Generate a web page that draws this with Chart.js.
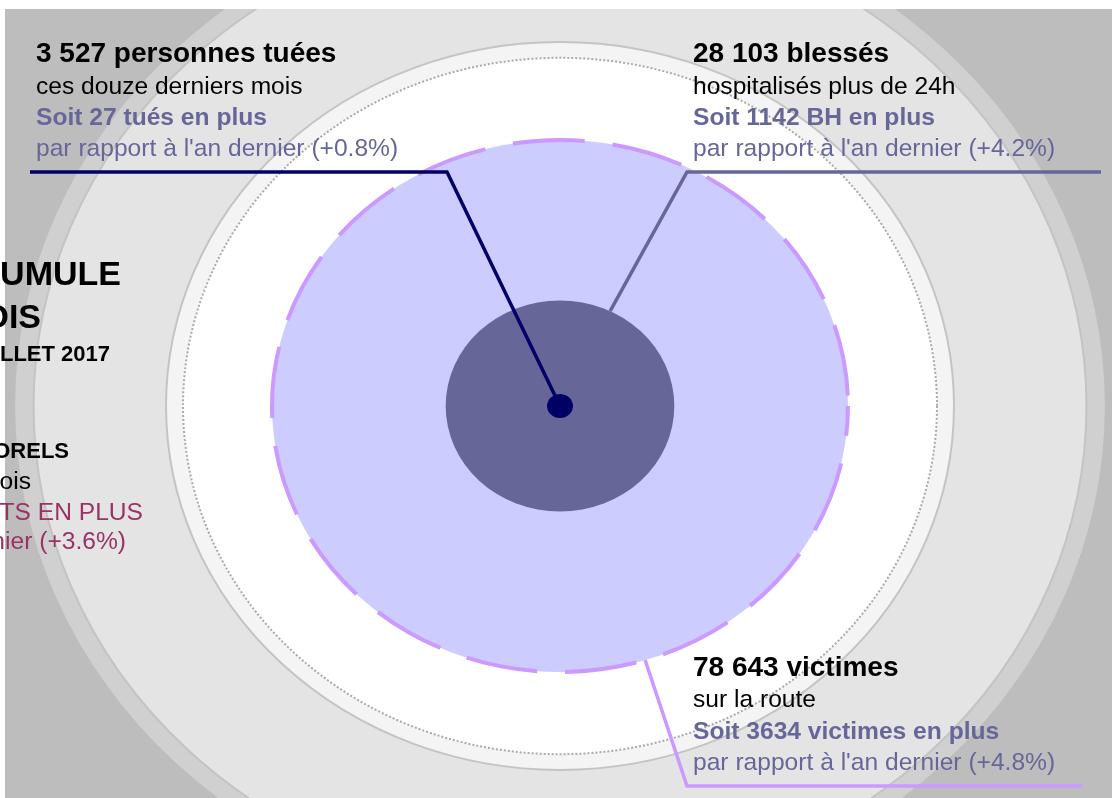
<!DOCTYPE html>
<html lang="fr">
<head>
<meta charset="utf-8">
<title>Bilan cumulé sur 12 mois</title>
<script src="https://cdn.jsdelivr.net/npm/chart.js@4.4.1/dist/chart.umd.min.js"></script>
<style>
  html, body { margin: 0; padding: 0; background: #ffffff; }
  #wrap { position: relative; width: 1112px; height: 798px; }
</style>
</head>
<body>
<div id="wrap"><canvas id="bilan"></canvas></div>
<script>
// Séries (12 derniers mois, juillet 2017)
const categories = ['victimes', 'blessés hospitalisés', 'tuées'];
const totals = [78643, 28103, 3527];
const hausses = [3634, 1142, 27];
const haussesPct = [4.8, 4.2, 0.8];
// rayon des disques en unités du graphe (disque des victimes = 100)
const rayons = [100, 39.7, 4.5];
// anneaux de fond, du plus grand au plus petit
const anneaux = [189.2, 182.8, 136.8, 130.9];
const accidentsPct = 3.6;

const fontFamily = "'Liberation Sans', Arial, sans-serif";
const milliers = n => String(n).replace(/\B(?=(\d{3})+(?!\d))/g, ' ');

const ringFill = ['#d0d0d0', '#e4e4e4', '#f4f4f4', '#ffffff'];
const ringStroke = [null, '#c4c4c4', '#c4c4c4', '#aaaaaa'];
const discFill = ['#ccccff', '#666699', '#000066'];
const leaderColor = ['#cc99ff', '#666699', '#000066'];

function radii(chart, r) {
  const { x, y } = chart.scales;
  return [x.getPixelForValue(r) - x.getPixelForValue(0), y.getPixelForValue(0) - y.getPixelForValue(r)];
}

// point du bord d'un disque, angle en degrés (sens écran)
function edgePoint(chart, r, deg) {
  const { x, y } = chart.scales;
  const [rx, ry] = radii(chart, r);
  const t = deg * Math.PI / 180;
  return [x.getPixelForValue(0) + rx * Math.cos(t), y.getPixelForValue(0) + ry * Math.sin(t)];
}

const ellipsePlugin = {
  id: 'ellipses',
  beforeDatasetsDraw(chart) {
    const { ctx, chartArea: a, scales: { x, y } } = chart;
    const cx = x.getPixelForValue(0), cy = y.getPixelForValue(0);
    ctx.save();
    ctx.fillStyle = '#bdbdbd';
    ctx.fillRect(a.left, a.top, a.right - a.left, a.bottom - a.top);
    ctx.beginPath();
    ctx.rect(a.left, a.top, a.right - a.left, a.bottom - a.top);
    ctx.clip();

    anneaux.forEach((r, i) => {
      const [rx, ry] = radii(chart, r);
      ctx.beginPath();
      ctx.ellipse(cx, cy, rx, ry, 0, 0, Math.PI * 2);
      ctx.fillStyle = ringFill[i];
      ctx.fill();
      if (ringStroke[i]) {
        ctx.lineWidth = 2;
        ctx.strokeStyle = ringStroke[i];
        ctx.setLineDash(i === 3 ? [2, 2] : []);
        ctx.stroke();
      }
    });
    ctx.setLineDash([]);

    rayons.forEach((r, i) => {
      const [rx, ry] = radii(chart, r);
      ctx.beginPath();
      ctx.ellipse(cx, cy, rx, ry, 0, 0, Math.PI * 2);
      ctx.fillStyle = discFill[i];
      ctx.fill();
      if (i === 0) {
        ctx.lineWidth = 4;
        ctx.strokeStyle = '#cc99ff';
        ctx.setLineDash([72, 28]);
        ctx.lineDashOffset = 42;
        ctx.stroke();
        ctx.setLineDash([]);
        ctx.lineDashOffset = 0;
      }
    });
    ctx.restore();
  },
  afterDatasetsDraw(chart) {
    const { ctx, scales: { x, y } } = chart;
    const cx = x.getPixelForValue(0), cy = y.getPixelForValue(0);
    ctx.save();
    ctx.lineWidth = 3.5;

    // tuées : vers le centre
    ctx.strokeStyle = leaderColor[2];
    ctx.beginPath();
    ctx.moveTo(30, 172);
    ctx.lineTo(447, 172);
    ctx.lineTo(cx, cy);
    ctx.stroke();

    // blessés : vers le bord du disque sombre
    const pb = edgePoint(chart, rayons[1], -64);
    ctx.strokeStyle = leaderColor[1];
    ctx.beginPath();
    ctx.moveTo(1101, 172);
    ctx.lineTo(687, 172);
    ctx.lineTo(pb[0], pb[1]);
    ctx.stroke();

    // victimes : depuis le bord du grand disque
    const pv = edgePoint(chart, rayons[0], 72.8);
    ctx.strokeStyle = leaderColor[0];
    ctx.beginPath();
    ctx.moveTo(pv[0], pv[1]);
    ctx.lineTo(687, 786);
    ctx.lineTo(1082, 786);
    ctx.stroke();

    function bloc(px, py, lines) {
      lines.forEach(([txt, font, color, dy]) => {
        ctx.font = font;
        ctx.fillStyle = color;
        ctx.fillText(txt, px, py + dy);
      });
    }
    const titre = 'bold 28px ' + fontFamily;
    const gras = 'bold 24.6px ' + fontFamily;
    const normal = '24.6px ' + fontFamily;
    const par = p => "par rapport à l'an dernier (+" + p.toFixed(1) + '%)';
    ctx.textAlign = 'left';
    ctx.textBaseline = 'alphabetic';

    bloc(36, 62, [
      [milliers(totals[2]) + ' personnes ' + categories[2], titre, '#000000', 0],
      ['ces douze derniers mois', normal, '#000000', 32],
      ['Soit ' + hausses[2] + ' tués en plus', gras, '#666699', 63],
      [par(haussesPct[2]), normal, '#666699', 94]
    ]);
    bloc(693, 62, [
      [milliers(totals[1]) + ' blessés', titre, '#000000', 0],
      ['hospitalisés plus de 24h', normal, '#000000', 32],
      ['Soit ' + hausses[1] + ' BH en plus', gras, '#666699', 63],
      [par(haussesPct[1]), normal, '#666699', 94]
    ]);
    bloc(693, 676, [
      [milliers(totals[0]) + ' ' + categories[0], titre, '#000000', 0],
      ['sur la route', normal, '#000000', 31],
      ['Soit ' + hausses[0] + ' victimes en plus', gras, '#666699', 63],
      [par(haussesPct[0]), normal, '#666699', 94]
    ]);

    // bloc de gauche, coupé par le bord
    ctx.textAlign = 'right';
    bloc(121, 285, [['BILAN CUMULE', 'bold 34px ' + fontFamily, '#000000', 0]]);
    bloc(41, 328, [['SUR 12 MOIS', 'bold 34px ' + fontFamily, '#000000', 0]]);
    bloc(110, 361, [['JUILLET 2017', 'bold 22px ' + fontFamily, '#000000', 0]]);
    bloc(69, 458, [['ACCIDENTS CORPORELS', 'bold 22px ' + fontFamily, '#000000', 0]]);
    bloc(31, 489, [['ces douze derniers mois', normal, '#000000', 0]]);
    bloc(143, 520, [['ACCIDENTS EN PLUS', normal, '#993366', 0]]);
    bloc(126, 549, [[par(accidentsPct), normal, '#993366', 0]]);
    ctx.restore();
  }
};

new Chart(document.getElementById('bilan'), {
  type: 'scatter',
  data: {
    datasets: [{
      label: 'Bilan',
      data: categories.map(() => ({ x: 0, y: 0 })),
      pointRadius: 0,
      pointHoverRadius: 0
    }]
  },
  options: {
    responsive: true,
    maintainAspectRatio: false,
    animation: false,
    layout: { padding: { left: 5, top: 9, right: 0, bottom: 0 } },
    plugins: { legend: { display: false }, tooltip: { enabled: false } },
    scales: {
      x: { type: 'linear', min: -192.71, max: 191.67, display: false },
      y: { type: 'linear', min: -147.37, max: 149.25, display: false }
    }
  },
  plugins: [ellipsePlugin]
});
</script>
</body>
</html>
